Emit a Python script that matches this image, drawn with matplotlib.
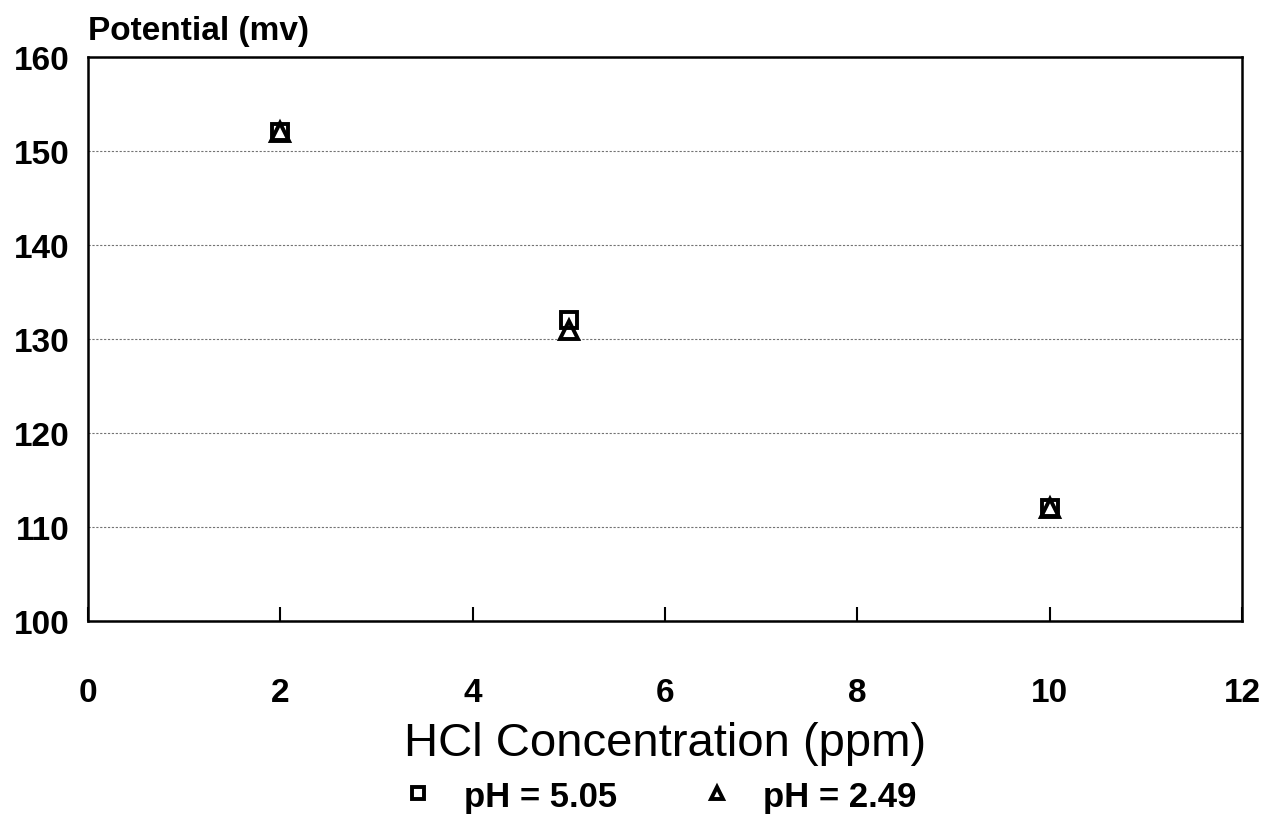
import matplotlib
matplotlib.use("Agg")
import matplotlib.pyplot as plt

## Data
conc_ph505 = [2, 5, 10]
pot_ph505 = [152, 132, 112]
conc_ph249 = [2, 5, 10]
pot_ph249 = [152, 131, 112]

x_ticks = [0, 2, 4, 6, 8, 10, 12]
y_ticks = [100, 110, 120, 130, 140, 150, 160]

plt.rcParams['font.family'] = ['Liberation Sans', 'DejaVu Sans']

fig = plt.figure(figsize=(12.63, 8.20), dpi=100)
ax = fig.add_axes([0.0697, 0.2415, 0.9137, 0.6875])

ax.plot(conc_ph505, pot_ph505, 's', markersize=12, markerfacecolor='none',
        markeredgecolor='black', markeredgewidth=2.8, linestyle='none', label='pH = 5.05')
ax.plot(conc_ph249, pot_ph249, '^', markersize=13, markerfacecolor='none',
        markeredgecolor='black', markeredgewidth=2.8, linestyle='none', label='pH = 2.49')

ax.set_xlim(0, 12)
ax.set_ylim(100, 160)
ax.set_xticks(x_ticks)
ax.set_yticks(y_ticks)
ax.set_xticklabels([str(t) for t in x_ticks], fontsize=24, fontweight='bold')
ax.set_yticklabels([str(t) for t in y_ticks], fontsize=24, fontweight='bold')
ax.tick_params(axis='x', direction='in', length=10, width=1.5, pad=40)
ax.tick_params(axis='y', length=0, pad=13)
ax.grid(axis='y', linestyle=(0, (2, 1.5)), color='black', linewidth=0.8, alpha=0.55)
for s in ax.spines.values():
    s.set_linewidth(1.8)

ax.set_xlabel("HCl Concentration (ppm)", fontsize=34, labelpad=10)
ax.text(0, 1.02, "Potential (mv)", transform=ax.transAxes, fontsize=24,
        fontweight='bold', ha='left', va='bottom')

fig.legend(loc='center', bbox_to_anchor=(0.52, 0.028), ncol=2, frameon=False,
           prop={'size': 25, 'weight': 'bold'}, markerscale=0.7,
           handlelength=1.2, handletextpad=0.7, columnspacing=2.3)

fig.savefig("out.png", dpi=100)
